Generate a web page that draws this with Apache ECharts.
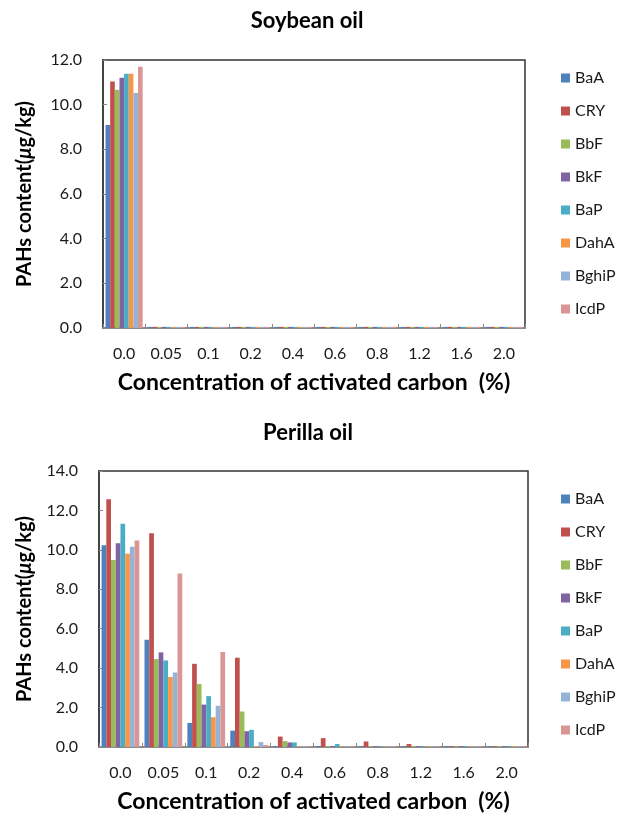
<!DOCTYPE html>
<html>
<head>
<meta charset="utf-8">
<script src="https://cdn.jsdelivr.net/npm/echarts@6/dist/echarts.min.js"></script>
<style>
html,body{margin:0;padding:0;background:#fff;}
#c{width:628px;height:816px;}
</style>
</head>
<body>
<div id="c"></div>
<script>
var categories = ['0.0','0.05','0.1','0.2','0.4','0.6','0.8','1.2','1.6','2.0'];
var seriesNames = ['BaA','CRY','BbF','BkF','BaP','DahA','BghiP','IcdP'];
var colors = ['#4F81BD','#C0504D','#9BBB59','#8064A2','#4BACC6','#F79646','#95B3D7','#D99694'];

// Soybean oil
var soyBaA   = [9.09, 0.05, 0.05, 0.05, 0.05, 0.05, 0.05, 0.05, 0.05, 0.05];
var soyCRY   = [11.04,0.05, 0.05, 0.05, 0.05, 0.05, 0.05, 0.05, 0.05, 0.05];
var soyBbF   = [10.67,0.05, 0.05, 0.05, 0.05, 0.05, 0.05, 0.05, 0.05, 0.05];
var soyBkF   = [11.2, 0.05, 0.05, 0.05, 0.05, 0.05, 0.05, 0.05, 0.05, 0.05];
var soyBaP   = [11.38,0.05, 0.05, 0.05, 0.05, 0.05, 0.05, 0.05, 0.05, 0.05];
var soyDahA  = [11.38,0.05, 0.05, 0.05, 0.05, 0.05, 0.05, 0.05, 0.05, 0.05];
var soyBghiP = [10.52,0.05, 0.05, 0.05, 0.05, 0.05, 0.05, 0.05, 0.05, 0.05];
var soyIcdP  = [11.7, 0.05, 0.05, 0.05, 0.05, 0.05, 0.05, 0.05, 0.05, 0.05];

// Perilla oil
var perBaA   = [10.23, 5.44, 1.22, 0.83, 0.05, 0.05, 0.04, 0.04, 0.04, 0.04];
var perCRY   = [12.57, 10.84, 4.22, 4.53, 0.53, 0.45, 0.28, 0.15, 0.04, 0.04];
var perBbF   = [9.48, 4.46, 3.2, 1.8, 0.3, 0.05, 0.04, 0.04, 0.04, 0.04];
var perBkF   = [10.33, 4.8, 2.15, 0.8, 0.23, 0.05, 0.04, 0.04, 0.04, 0.04];
var perBaP   = [11.33, 4.39, 2.58, 0.87, 0.23, 0.15, 0.04, 0.04, 0.04, 0.04];
var perDahA  = [9.8, 3.55, 1.51, 0.05, 0.04, 0.04, 0.04, 0.04, 0.04, 0.04];
var perBghiP = [10.16, 3.78, 2.09, 0.25, 0.04, 0.04, 0.04, 0.04, 0.04, 0.04];
var perIcdP  = [10.48, 8.8, 4.82, 0.1, 0.04, 0.04, 0.04, 0.04, 0.04, 0.04];

var soyTicksMax = 12, perTicksMax = 14, tickStep = 2;

var soyData = [soyBaA, soyCRY, soyBbF, soyBkF, soyBaP, soyDahA, soyBghiP, soyIcdP];
var perData = [perBaA, perCRY, perBbF, perBkF, perBaP, perDahA, perBghiP, perIcdP];

var FONT = 'Lato';
function xAxis(gi){
  return {
    type:'category', gridIndex:gi, data:categories,
    axisLine:{lineStyle:{color:'#8c8c8c', width:2}},
    axisTick:{show:true, inside:true, length:4, lineStyle:{color:'#888'}},
    axisLabel:{color:'#1a1a1a', fontFamily:FONT, fontSize:16, margin:18},
    name:'Concentration of activated carbon  (%)', nameLocation:'middle', nameGap:43,
    nameTextStyle:{color:'#000', fontFamily:FONT, fontWeight:'bold', fontSize:23}
  };
}
function yAxis(gi, max, gap){
  return {
    type:'value', gridIndex:gi, min:0, max:max, interval:tickStep,
    axisLine:{show:true, lineStyle:{color:'#444', width:2}},
    axisTick:{show:true, inside:true, length:4, lineStyle:{color:'#888'}},
    splitLine:{show:false},
    axisLabel:{color:'#1a1a1a', fontFamily:FONT, fontSize:16, margin:21,
      formatter:function(v){return v.toFixed(1);}},
    name:'{a|PAHs content(}{b|μ}{a|g/kg)}', nameLocation:'middle', nameGap:gap, nameRotate:90,
    nameTextStyle:{rich:{
      a:{color:'#000', fontFamily:FONT, fontWeight:'bold', fontSize:20},
      b:{color:'#000', fontFamily:FONT, fontWeight:'bold', fontStyle:'italic', fontSize:20}
    }}
  };
}
var series = [];
for (var i=0;i<seriesNames.length;i++){
  series.push({name:seriesNames[i], type:'bar', xAxisIndex:0, yAxisIndex:0, data:soyData[i],
    barGap:'0%', barCategoryGap:'12%', itemStyle:{color:colors[i]}});
}
for (var i=0;i<seriesNames.length;i++){
  series.push({name:seriesNames[i], type:'bar', xAxisIndex:1, yAxisIndex:1, data:perData[i],
    barGap:'0%', barCategoryGap:'12%', itemStyle:{color:colors[i]}});
}
function legend(top){
  return {
    orient:'vertical', left:556, top:top, itemWidth:9, itemHeight:9, itemGap:17,
    icon:'rect', data:seriesNames,
    textStyle:{color:'#1a1a1a', fontFamily:FONT, fontSize:16, lineHeight:16}
  };
}
var chart = echarts.init(document.getElementById('c'), null, {renderer:'canvas'});
chart.setOption({
  animation:false,
  backgroundColor:'#fff',
  color:colors,
  title:[
    {text:'Soybean oil', left:302, top:5, textAlign:'center',
     textStyle:{fontFamily:FONT, fontWeight:'bold', fontSize:22, color:'#000'}},
    {text:'Perilla oil', left:303, top:417, textAlign:'center',
     textStyle:{fontFamily:FONT, fontWeight:'bold', fontSize:22, color:'#000'}}
  ],
  legend:[legend(65), legend(486)],
  grid:[
    {left:103, top:60, width:422, height:268, show:true, borderColor:'#333', borderWidth:1.5, backgroundColor:'#fff'},
    {left:99, top:471, width:429, height:276, show:true, borderColor:'#333', borderWidth:1.5, backgroundColor:'#fff'}
  ],
  xAxis:[xAxis(0), xAxis(1)],
  yAxis:[yAxis(0, soyTicksMax, 68), yAxis(1, perTicksMax, 64)],
  series:series
});
</script>
</body>
</html>
